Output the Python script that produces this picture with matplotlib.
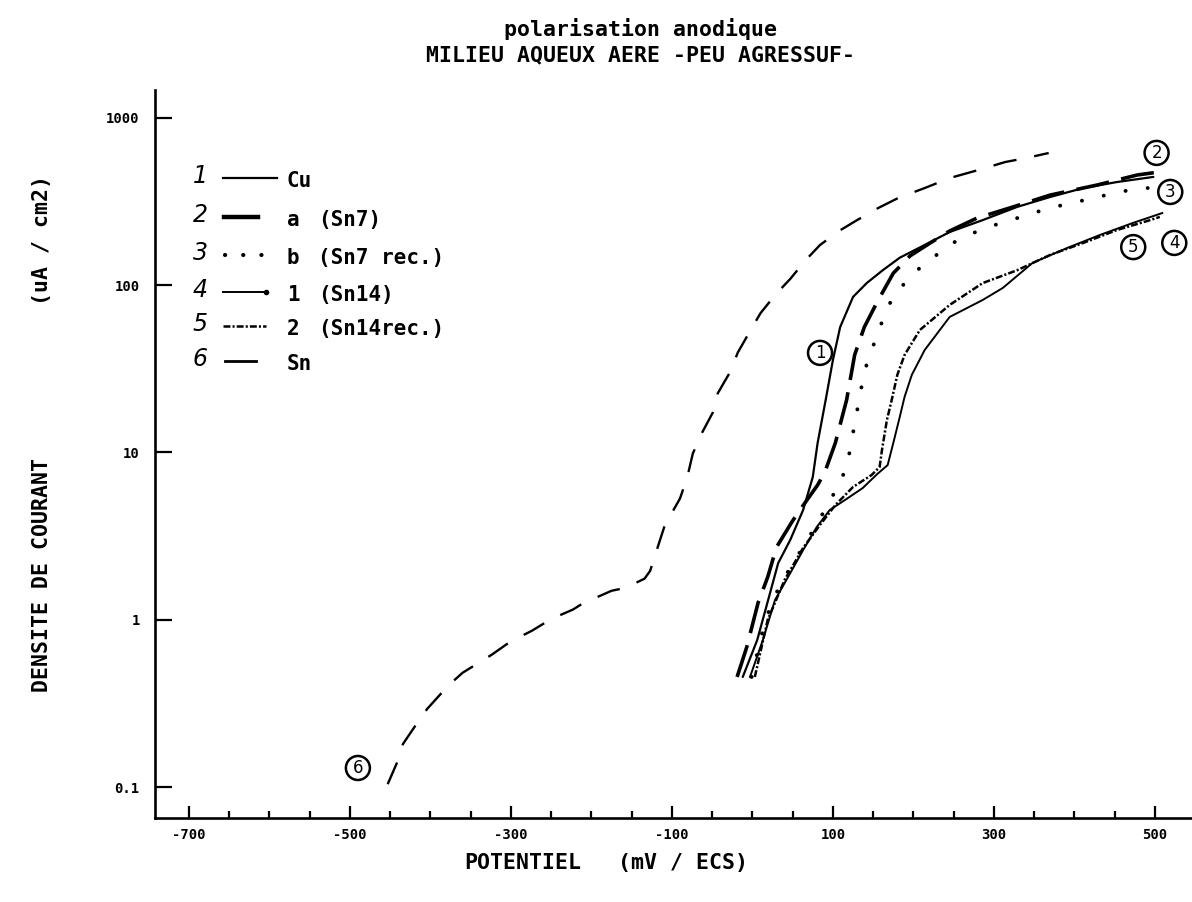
import matplotlib
matplotlib.use("Agg")
import matplotlib.pyplot as plt
from matplotlib.lines import Line2D
from matplotlib.ticker import NullLocator

plt.rcParams['lines.scale_dashes'] = False

# ---------------- data (potential mV/ECS, current density uA/cm2) ----------------
cu_mv = [-12, 6, 22, 32, 47, 63, 75, 81, 91, 100, 109, 125, 142, 162, 183, 214, 245,
         286, 329, 370, 411, 453, 498]
cu_ua = [0.455, 0.757, 1.45, 2.18, 3.00, 4.53, 7.14, 11.4, 20.6, 35.7, 56.2, 85.1, 103,
         123, 146, 174, 208, 245, 294, 337, 381, 414, 444]

sn7_mv = [-19, -7, 7, 19, 30, 49, 59, 81, 90, 103, 117, 127, 139, 155, 175, 196, 221,
          245, 279, 320, 370, 428, 478, 506]
sn7_ua = [0.455, 0.687, 1.26, 1.80, 2.72, 3.84, 4.53, 6.39, 7.64, 11.4, 20.6, 38.3, 56.2,
          79.4, 118, 150, 179, 211, 252, 290, 346, 397, 456, 476]

sn7r_mv = [-1, 16, 34, 59, 78, 99, 112, 120, 125, 130, 135, 141, 150, 160, 171, 189, 208,
           229, 249, 274, 301, 329, 353, 381, 408, 435, 463, 491]
sn7r_ua = [0.455, 1.0, 1.61, 2.54, 3.59, 5.42, 7.14, 9.66, 13.1, 17.7, 24.0, 32.5, 43.3,
           58.7, 78.3, 103, 127, 152, 179, 205, 229, 252, 274, 298, 319, 342, 366, 381]

sn14_mv = [-3, 13, 28, 47, 63, 80, 96, 115, 137, 155, 168, 175, 183, 189, 198, 214, 245,
           286, 311, 348, 391, 432, 473, 509]
sn14_ua = [0.455, 0.757, 1.31, 1.90, 2.61, 3.59, 4.53, 5.20, 6.13, 7.43, 8.41, 11.4, 16.3,
           21.5, 29.1, 41.0, 64.6, 81.6, 96.3, 136, 167, 200, 236, 270]

sn14r_mv = [3, 19, 40, 63, 84, 103, 125, 148, 158, 161, 167, 173, 180, 189, 208, 245, 286,
            329, 370, 411, 453, 494, 506]
sn14r_ua = [0.455, 1.0, 1.73, 2.69, 3.69, 4.85, 6.22, 7.33, 8.19, 10.4, 15.6, 20.6, 29.1,
            38.3, 54.0, 76.2, 103, 123, 152, 179, 214, 245, 256]

sn_mv = [-453, -440, -434, -418, -404, -378, -360, -324, -301, -274, -250, -223, -211,
         -175, -158, -134, -127, -119, -109, -90, -81, -74, -63, -49, -43, -28, -18, -3,
         10, 29, 47, 66, 84, 109, 130, 156, 181, 214, 245, 285, 314, 340, 368]
sn_ua = [0.104, 0.145, 0.181, 0.235, 0.293, 0.403, 0.482, 0.617, 0.738, 0.859, 1.01, 1.15,
         1.25, 1.49, 1.55, 1.76, 1.96, 2.59, 3.65, 5.30, 7.08, 9.86, 13.0, 17.4, 22.6, 30.1,
         39.7, 53.1, 68.0, 88.3, 109, 141, 174, 213, 245, 289, 332, 381, 437, 495, 545,
         576, 617]

x_major = [-700, -500, -300, -100, 100, 300, 500]
x_major_labels = ["-700", "-500", "-300", "-100", "100", "300", "500"]
x_minor = [-650, -600, -550, -450, -400, -350, -250, -200, -150, -50, 0, 50,
           150, 200, 250, 350, 400, 450]
y_ticks = [0.1, 1, 10, 100, 1000]
y_labels = ["0.1", "1", "10", "100", "1000"]

legend_nums = ["1", "2", "3", "4", "5", "6"]
legend_keys = ["Cu", "a", "b", "1", "2", "Sn"]
legend_names = ["", "(Sn7)", "(Sn7 rec.)", "(Sn14)", "(Sn14rec.)", ""]

# ---------------- figure ----------------
W, H = 1192, 902
fig = plt.figure(figsize=(W / 100, H / 100), dpi=100)
fig.patch.set_facecolor("white")


def fx(px):
    return px / W


def fy(py):
    return 1 - py / H


ax = fig.add_axes([fx(155), fy(818), 1 - fx(155), fy(90) - fy(818)])
ax.set_yscale("log")
ax.set_xlim(-742, 546)
ax.set_ylim(0.0653, 1469)

for s in ["top", "right"]:
    ax.spines[s].set_visible(False)
for s in ["left", "bottom"]:
    ax.spines[s].set_linewidth(1.9)

mono = "DejaVu Sans Mono"

ax.set_xticks(x_major)
ax.set_xticklabels(x_major_labels, fontfamily=mono, fontweight="bold", fontsize=10)
ax.set_xticks(x_minor, minor=True)
ax.set_yticks(y_ticks)
ax.set_yticklabels(y_labels, fontfamily=mono, fontweight="bold", fontsize=10)
ax.yaxis.set_minor_locator(NullLocator())
ax.tick_params(axis="x", which="major", direction="in", length=9, width=1.6, pad=7)
ax.tick_params(axis="x", which="minor", direction="in", length=5, width=1.6)
ax.tick_params(axis="y", which="major", direction="in", length=12, width=1.6, pad=11)

# curves
k = "black"
ax.plot(cu_mv, cu_ua, color=k, lw=1.6, solid_capstyle="round")
ax.plot(sn7_mv, sn7_ua, color=k, lw=2.6, linestyle=(0, (24, 9)))
ax.plot(sn7r_mv, sn7r_ua, color=k, lw=2.8, linestyle=(0, (0.1, 16)),
        dash_capstyle="round")
ax.plot(sn14_mv, sn14_ua, color=k, lw=1.4)
ax.plot(sn14r_mv, sn14r_ua, color=k, lw=1.8, linestyle=(0, (5, 1.5, 1.5, 1.5)))
ax.plot(sn_mv, sn_ua, color=k, lw=1.7, linestyle=(0, (17, 13)))

# circled curve labels
circ = dict(boxstyle="circle,pad=0.18", fc="white", ec="black", lw=1.8)
for txt, xv, yv in [("1", 84, 39.4), ("2", 502, 618), ("3", 519, 361),
                    ("5", 473, 169), ("4", 524, 179), ("6", -490, 0.130)]:
    ax.text(xv, yv, txt, ha="center", va="center", fontsize=12,
            fontfamily="DejaVu Sans", bbox=circ, zorder=5)

# legend (drawn by hand like the plotter legend)
rows_y = [178, 217, 255, 292, 326, 361]
styles = [dict(lw=1.6, linestyle="-"),
          dict(lw=3.2, linestyle="-"),
          dict(lw=3.0, linestyle=(0, (0.1, 13)), dash_capstyle="round"),
          dict(lw=1.4, linestyle="-"),
          dict(lw=1.8, linestyle=(0, (5, 1.5, 1.5, 1.5))),
          dict(lw=2.0, linestyle="-")]
x_ends = [(223, 277), (224, 258), (225, 265), (223, 266), (223, 266), (225, 256)]
for i in range(6):
    yy = rows_y[i]
    fig.text(fx(200), fy(yy - 2), legend_nums[i], ha="center", va="center",
             fontsize=17, fontstyle="italic", fontfamily="DejaVu Sans")
    x0, x1 = x_ends[i]
    fig.add_artist(Line2D([fx(x0), fx(x1)], [fy(yy), fy(yy)], color=k,
                          transform=fig.transFigure, **styles[i]))
    if i == 3:
        fig.add_artist(Line2D([fx(x1)], [fy(yy)], marker="o", ms=3, color=k,
                              transform=fig.transFigure))
    fig.text(fx(287), fy(yy + 3), legend_keys[i], ha="left", va="center",
             fontsize=15, fontweight="bold", fontfamily=mono)
    if legend_names[i]:
        fig.text(fx(318), fy(yy + 3), legend_names[i], ha="left", va="center",
                 fontsize=15, fontweight="bold", fontfamily=mono)

# titles and axis labels
fig.text(fx(640), fy(29), "polarisation anodique", ha="center", va="center",
         fontsize=15.5, fontweight="bold", fontfamily=mono)
fig.text(fx(640), fy(55), "MILIEU AQUEUX AERE -PEU AGRESSUF-", ha="center",
         va="center", fontsize=15.5, fontweight="bold", fontfamily=mono)
fig.text(fx(523), fy(863), "POTENTIEL", ha="center", va="center",
         fontsize=15.5, fontweight="bold", fontfamily=mono)
fig.text(fx(683), fy(863), "(mV / ECS)", ha="center", va="center",
         fontsize=15.5, fontweight="bold", fontfamily=mono)
fig.text(fx(42), fy(575), "DENSITE DE COURANT", ha="center", va="center",
         rotation=90, fontsize=15.5, fontweight="bold", fontfamily=mono)
fig.text(fx(42), fy(240), "(uA / cm2)", ha="center", va="center",
         rotation=90, fontsize=15.5, fontweight="bold", fontfamily=mono)

fig.savefig("out.png", dpi=100, facecolor="white")
